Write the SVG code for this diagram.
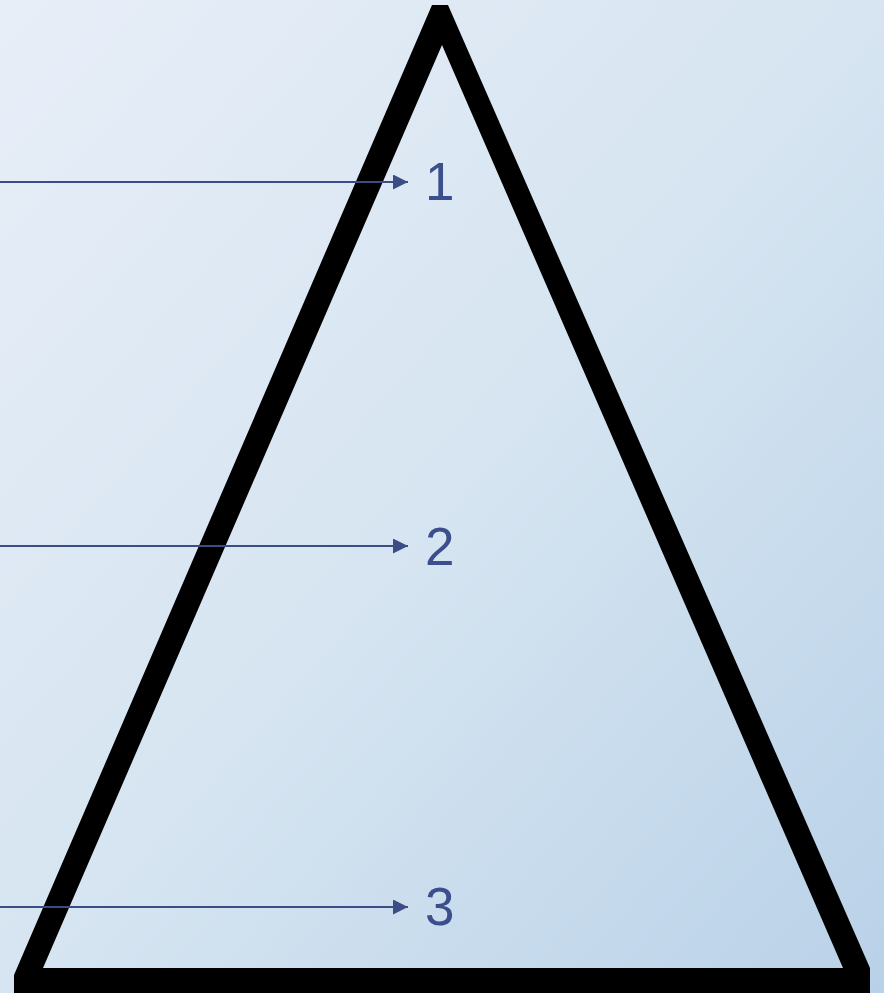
<svg xmlns="http://www.w3.org/2000/svg" width="884" height="993" viewBox="0 0 884 993">
<defs>
<linearGradient id="bg" x1="0" y1="0" x2="1" y2="1">
<stop offset="0" stop-color="#e8eef8"/>
<stop offset="0.5" stop-color="#d6e5f1"/>
<stop offset="1" stop-color="#b9d1e8"/>
</linearGradient>
<marker id="arr" viewBox="0 0 15 15" refX="15" refY="7.5" markerWidth="15" markerHeight="15" markerUnits="userSpaceOnUse" orient="auto">
<path d="M0,0 L15,7.5 L0,15 Z" fill="#3c4c84"/>
</marker>
<style>
.conn{stroke:#3c4c84;stroke-width:2;fill:none}
.lbl{font-family:"Liberation Sans",Arial,sans-serif;font-size:53px;fill:#3b4f8c}
</style>
</defs>
<rect width="884" height="993" fill="url(#bg)"/>
<g id="triangle">
<path fill="#000" fill-rule="evenodd" d="M432,5 L448,5 L870,968 L870,993 L14,993 L14,975 Z M442,45 L43,968 L843,968 Z"/>
</g>
<g id="connectors">
<line class="conn" x1="0" y1="182" x2="408" y2="182" marker-end="url(#arr)"/>
<line class="conn" x1="0" y1="546" x2="408" y2="546" marker-end="url(#arr)"/>
<line class="conn" x1="0" y1="907" x2="408" y2="907" marker-end="url(#arr)"/>
</g>
<g id="label1"><text class="lbl" x="425" y="200">1</text></g>
<g id="label2"><text class="lbl" x="425" y="565">2</text></g>
<g id="label3"><text class="lbl" x="425" y="925">3</text></g>
</svg>
